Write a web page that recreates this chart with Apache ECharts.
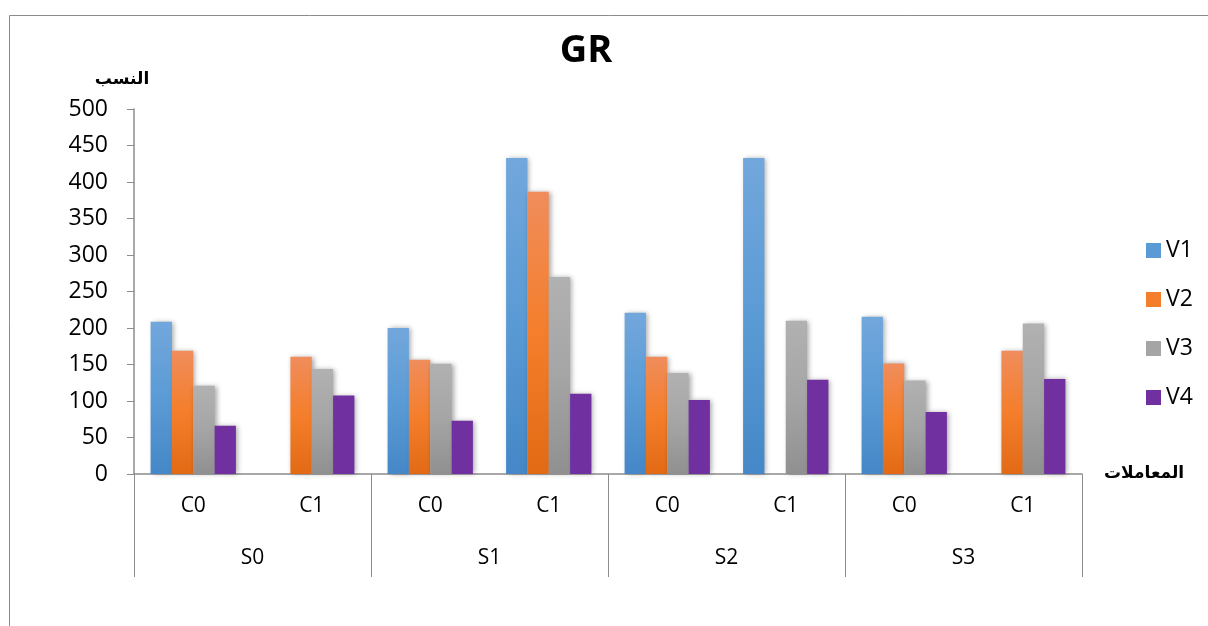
<!DOCTYPE html>
<html>
<head>
<meta charset="utf-8">
<script src="https://cdn.jsdelivr.net/npm/echarts@6/dist/echarts.min.js"></script>
<style>html,body{margin:0;padding:0;background:#fff;}#c{width:1208px;height:626px;}</style>
</head>
<body>
<div id="c"></div>
<script>
const subCategories = ['C0','C1','C0','C1','C0','C1','C0','C1'];
const groupCategories = ['S0','S1','S2','S3'];
const seriesNames = ['V1','V2','V3','V4'];
const V1 = [208.5, null, 200, 433, 221, 433, 215.5, null];
const V2 = [169, 160.5, 156.5, 386.5, 160.5, null, 151.5, 169];
const V3 = [121, 144, 151, 270, 138.5, 210, 128, 206];
const V4 = [66, 107.5, 73, 110, 101.5, 129, 85, 130];
const yTicks = { min: 0, max: 500, interval: 50 };

const fontMain = '"Open Sans", "Liberation Sans", sans-serif';
const fontAr = '"DejaVu Sans", sans-serif';

function grad(top, mid, bot) {
  return new echarts.graphic.LinearGradient(0, 0, 0, 1, [
    { offset: 0, color: top }, { offset: 0.5, color: mid }, { offset: 1, color: bot }
  ]);
}
const fills = [
  grad('#72a7dc', '#5b9bd5', '#4587c7'),
  grad('#f08d5c', '#f47e2b', '#e26a15'),
  grad('#b1b1b1', '#a5a5a5', '#909090'),
  '#7030a0'
];
const legendColors = ['#5b9bd5', '#f47e2b', '#a5a5a5', '#7030a0'];
const values = [V1, V2, V3, V4];

const chart = echarts.init(document.getElementById('c'));
chart.setOption({
  animation: false,
  backgroundColor: '#fff',
  title: {
    text: 'GR', left: 581, top: 27, textAlign: 'center',
    textStyle: { fontSize: 38, fontWeight: 'bold', color: '#000', fontFamily: fontMain }
  },
  legend: {
    orient: 'vertical', left: 1141, top: 234, itemWidth: 15, itemHeight: 15, itemGap: 26,
    icon: 'rect',
    textStyle: { fontSize: 23, color: '#000', fontFamily: fontMain },
    data: seriesNames.map((n, i) => ({ name: n, itemStyle: { color: legendColors[i] } }))
  },
  grid: { left: 134, right: 126, top: 109, bottom: 152, containLabel: false },
  xAxis: [
    {
      type: 'category', data: subCategories, position: 'bottom',
      name: 'المعاملات', nameLocation: 'end', nameGap: 22,
      nameTextStyle: { fontFamily: fontAr, fontWeight: 'bold', fontSize: 17, color: '#000', padding: [16, 0, 0, 0] },
      axisLine: { lineStyle: { color: '#8c8c8c', width: 1.5 } },
      axisTick: { length: 52, lineStyle: { color: '#8c8c8c' } },
      axisLabel: { margin: 22, fontSize: 21, color: '#000', fontFamily: fontMain, interval: 0 }
    },
    {
      type: 'category', data: groupCategories, position: 'bottom', offset: 0,
      axisLine: { show: false },
      axisTick: { show: true, length: 103, lineStyle: { color: '#8c8c8c' } },
      axisLabel: { margin: 74, fontSize: 21, color: '#000', fontFamily: fontMain, interval: 0 }
    }
  ],
  yAxis: {
    type: 'value', min: yTicks.min, max: yTicks.max, interval: yTicks.interval,
    name: 'النسب', nameLocation: 'end', nameGap: 21,
    nameTextStyle: { fontFamily: fontAr, fontWeight: 'bold', fontSize: 17, color: '#000', align: 'center', padding: [0, 24, 0, 0] },
    axisLine: { show: true, lineStyle: { color: '#8c8c8c', width: 1.5 } },
    axisTick: { show: true, length: 7, lineStyle: { color: '#8c8c8c' } },
    splitLine: { show: false },
    axisLabel: { margin: 26, fontSize: 23, color: '#000', fontFamily: fontMain }
  },
  series: seriesNames.map((n, i) => ({
    name: n, type: 'bar', xAxisIndex: 0, data: values[i],
    barGap: '0%', barCategoryGap: '28%',
    itemStyle: {
      color: fills[i],
      shadowBlur: 5, shadowColor: 'rgba(0,0,0,0.35)', shadowOffsetX: 2, shadowOffsetY: 0
    }
  })),
  graphic: [
    { type: 'rect', shape: { x: 9.5, y: 15.5, width: 1400, height: 800 },
      style: { fill: null, stroke: '#8a8a8a', lineWidth: 1 }, silent: true, z: -1 }
  ]
});
</script>
</body>
</html>
